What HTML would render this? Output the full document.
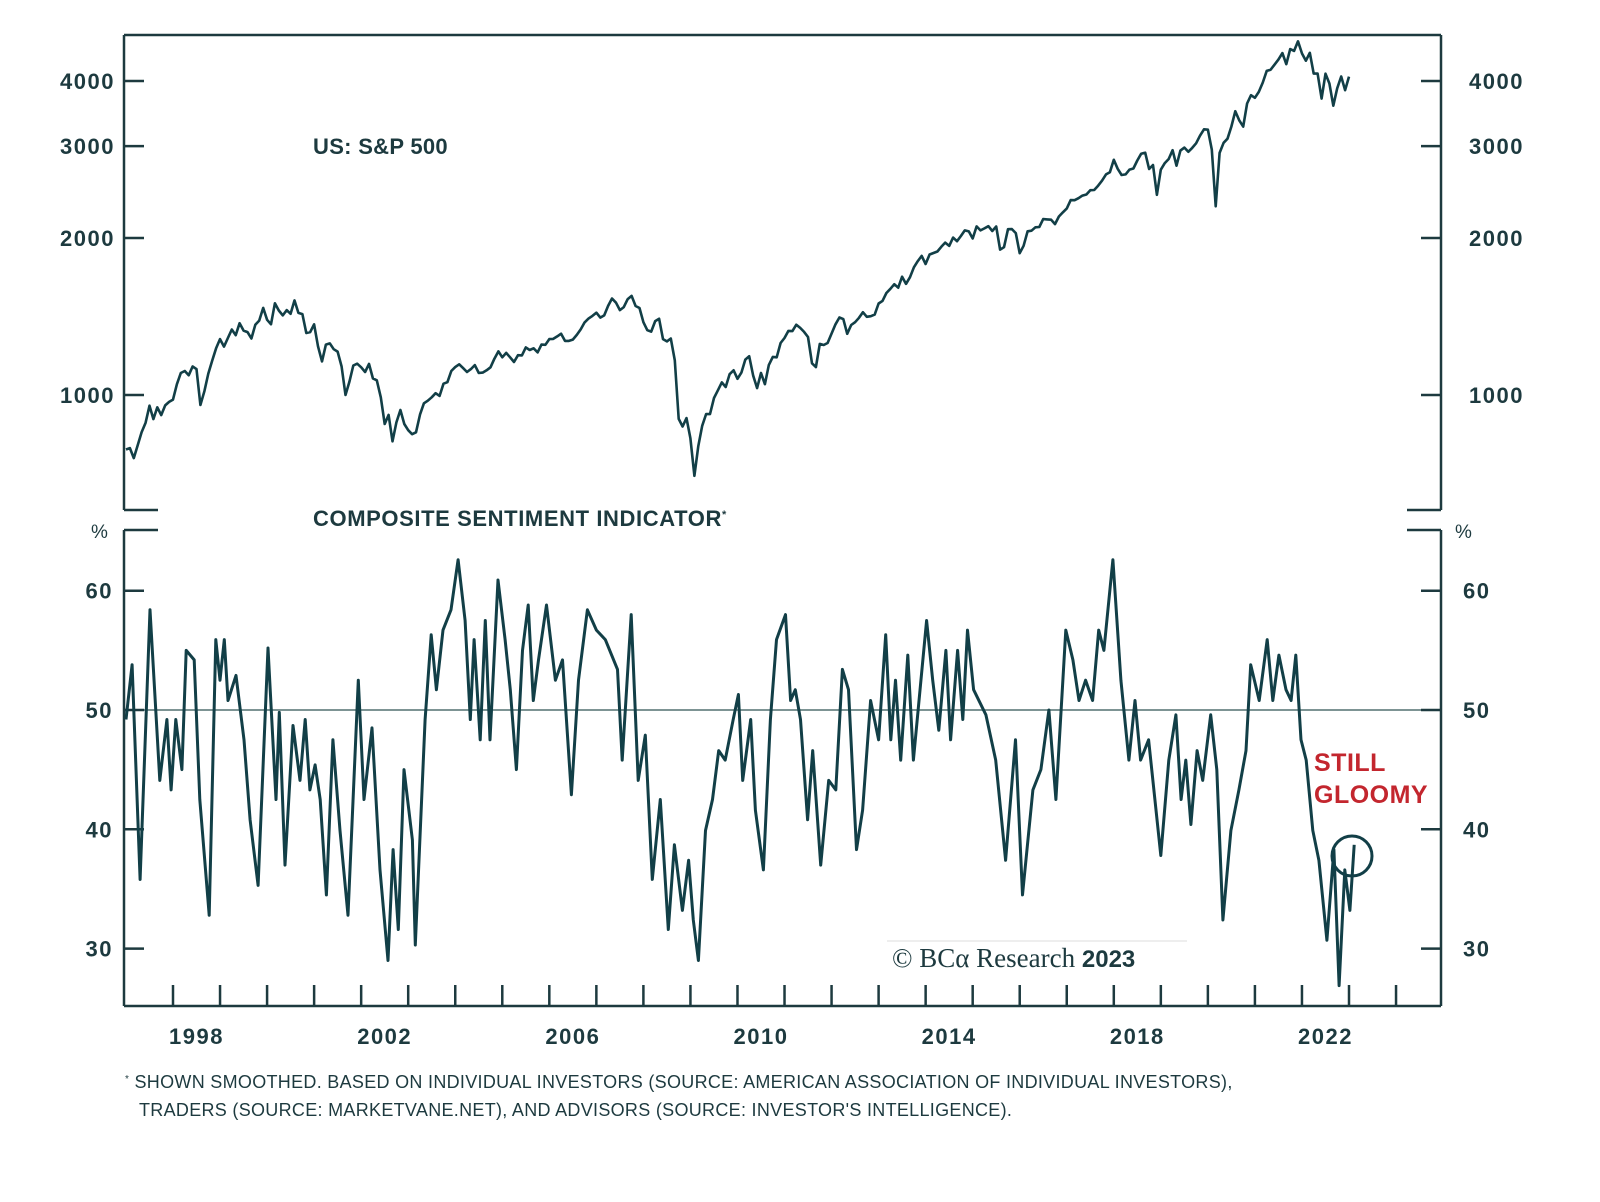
<!DOCTYPE html>
<html><head><meta charset="utf-8">
<style>
html,body{margin:0;padding:0;background:#fff;}
svg{display:block;}
text{font-family:"Liberation Sans",sans-serif;fill:#1d3a3f;}
</style></head>
<body>
<svg id="chart" width="1600" height="1202" viewBox="0 0 1600 1202">
  <g id="frame" stroke="#1d3a3f" stroke-width="2.5" fill="none">
    <line x1="124" y1="35" x2="1441" y2="35"/>
    <line x1="124" y1="35" x2="124" y2="510"/>
    <line x1="1441" y1="35" x2="1441" y2="510"/>
    <line x1="124" y1="510" x2="158" y2="510"/>
    <line x1="124" y1="530" x2="158" y2="530"/>
    <line x1="1407" y1="510" x2="1441" y2="510"/>
    <line x1="1407" y1="530" x2="1441" y2="530"/>
    <line x1="124" y1="530" x2="124" y2="1006"/>
    <line x1="1441" y1="530" x2="1441" y2="1006"/>
    <line x1="124" y1="1006" x2="1441" y2="1006"/>
  </g>
  <line x1="124" y1="710" x2="1441" y2="710" stroke="#7d9494" stroke-width="2" id="refline"/>
  <g id="ticks"></g>
  <g id="series"></g>
  <text x="313" y="154" font-size="22" font-weight="bold" letter-spacing="0.3">US: S&amp;P 500</text>
  <text x="313" y="526" font-size="22" font-weight="bold" letter-spacing="0.6">COMPOSITE SENTIMENT INDICATOR<tspan font-size="11" dy="-8">*</tspan></text>
  <text x="91" y="538" font-size="19">%</text>
  <text x="1455" y="538" font-size="19">%</text>
  <text x="1314" y="771" font-size="25" font-weight="bold" letter-spacing="0.5" style="fill:#c3262e">STILL</text>
  <text x="1314" y="803" font-size="25" font-weight="bold" letter-spacing="0.5" style="fill:#c3262e">GLOOMY</text>
  <circle cx="1352" cy="856" r="20" fill="none" stroke="#123f47" stroke-width="3"/>
  <line x1="887" y1="941" x2="1187" y2="941" stroke="#ddd" stroke-width="1"/>
  <text x="892" y="967" font-size="27" style="font-family:'Liberation Serif',serif">© BCα Research <tspan font-family="Liberation Sans" font-weight="bold" font-size="24">2023</tspan></text>
  <text x="125" y="1088" font-size="18" letter-spacing="0.3"><tspan font-size="10" dy="-6">*</tspan><tspan dy="6"> SHOWN SMOOTHED. BASED ON INDIVIDUAL INVESTORS (SOURCE: AMERICAN ASSOCIATION OF INDIVIDUAL INVESTORS),</tspan></text>
  <text x="139" y="1116" font-size="18" letter-spacing="0.3">TRADERS (SOURCE: MARKETVANE.NET), AND ADVISORS (SOURCE: INVESTOR'S INTELLIGENCE).</text>
</svg>
<script>
const spStartYear = 1997;
const spMonthly = [
786,791,757,801,848,885,954,899,947,915,955,970,
980,1049,1102,1112,1091,1134,1121,957,1017,1099,1164,1229,
1280,1238,1286,1335,1302,1373,1329,1320,1283,1363,1389,1469,
1394,1366,1499,1452,1421,1455,1431,1518,1437,1429,1315,1320,
1366,1240,1160,1249,1256,1224,1211,1134,1000,1060,1139,1148,
1130,1107,1147,1076,1067,990,880,916,815,886,936,880,
856,841,848,917,964,975,990,1008,996,1051,1058,1112,
1131,1145,1126,1107,1121,1141,1102,1104,1115,1130,1174,1212,
1181,1204,1181,1157,1192,1191,1234,1220,1229,1207,1249,1248,
1280,1281,1295,1311,1270,1270,1277,1304,1336,1378,1401,1418,
1438,1407,1421,1482,1531,1503,1455,1474,1527,1549,1481,1468,
1379,1331,1323,1386,1400,1280,1267,1283,1165,900,870,903,
826,700,798,873,919,919,987,1021,1057,1036,1096,1115,
1074,1104,1169,1187,1089,1031,1102,1049,1141,1183,1181,1258,
1286,1327,1326,1364,1345,1321,1292,1150,1131,1253,1247,1258,
1312,1366,1408,1398,1310,1362,1379,1406,1441,1412,1416,1426,
1498,1515,1569,1598,1631,1606,1686,1633,1682,1757,1806,1848,
1783,1859,1872,1884,1924,1960,1931,2003,1972,2018,2068,2059,
1995,2105,2068,2086,2107,2063,2104,1900,1920,2079,2080,2044,
1870,1932,2060,2065,2097,2099,2174,2171,2168,2126,2199,2239,
2279,2364,2363,2384,2412,2423,2470,2472,2519,2575,2648,2674,
2824,2714,2641,2648,2705,2718,2816,2902,2914,2712,2760,2420,
2704,2784,2834,2946,2752,2942,2980,2926,2977,3038,3141,3231,
3226,2954,2300,2912,3044,3100,3271,3500,3363,3270,3622,3756,
3714,3811,3973,4181,4204,4298,4395,4523,4308,4605,4567,4766,
4516,4374,4530,4132,4132,3700,4130,3955,3586,3872,4080,3840,
4077];
const sentDates = [1997.0,1997.13,1997.3,1997.51,1997.72,1997.87,1997.96,1998.06,1998.19,1998.28,1998.45,1998.57,1998.77,1998.91,1999.0,1999.09,1999.17,1999.34,1999.51,1999.64,1999.81,2000.02,2000.19,2000.26,2000.38,2000.55,2000.7,2000.81,2000.91,2001.02,2001.13,2001.26,2001.4,2001.55,2001.72,2001.94,2002.06,2002.23,2002.4,2002.57,2002.68,2002.79,2002.91,2003.09,2003.15,2003.36,2003.49,2003.6,2003.74,2003.91,2004.06,2004.21,2004.32,2004.4,2004.53,2004.64,2004.74,2004.91,2005.06,2005.17,2005.3,2005.43,2005.55,2005.66,2005.77,2005.94,2006.13,2006.28,2006.47,2006.62,2006.81,2007.0,2007.19,2007.45,2007.55,2007.74,2007.89,2008.04,2008.19,2008.36,2008.53,2008.66,2008.83,2008.96,2009.06,2009.17,2009.32,2009.47,2009.6,2009.74,2009.91,2010.02,2010.11,2010.28,2010.38,2010.55,2010.7,2010.83,2011.02,2011.13,2011.23,2011.34,2011.49,2011.6,2011.77,2011.94,2012.09,2012.23,2012.36,2012.53,2012.66,2012.83,2013.0,2013.15,2013.26,2013.36,2013.47,2013.62,2013.74,2013.89,2014.02,2014.15,2014.28,2014.43,2014.53,2014.68,2014.79,2014.89,2015.02,2015.28,2015.49,2015.7,2015.91,2016.06,2016.28,2016.45,2016.62,2016.77,2016.98,2017.13,2017.26,2017.4,2017.55,2017.68,2017.79,2017.98,2018.15,2018.32,2018.45,2018.57,2018.74,2019.0,2019.17,2019.32,2019.43,2019.53,2019.64,2019.77,2019.89,2020.06,2020.19,2020.32,2020.49,2020.66,2020.81,2020.91,2021.09,2021.26,2021.38,2021.51,2021.66,2021.77,2021.87,2021.98,2022.09,2022.23,2022.36,2022.53,2022.68,2022.79,2022.91,2023.02,2023.11];
const sentValues = [49.2,53.8,35.8,58.4,44.1,49.2,43.3,49.2,45,55,54.2,42.5,32.8,55.9,52.5,55.9,50.8,52.9,47.5,40.8,35.3,55.2,42.5,49.8,37,48.7,44.1,49.2,43.3,45.4,42.5,34.5,47.5,39.9,32.8,52.5,42.5,48.5,36.6,29,38.3,31.6,45,39.1,30.3,49.2,56.3,51.7,56.7,58.4,62.6,57.5,49.2,55.9,47.5,57.5,47.5,60.9,55.9,51.7,45,55,58.8,50.8,54.2,58.8,52.5,54.2,42.9,52.5,58.4,56.7,55.9,53.4,45.8,58,44.1,47.9,35.8,42.5,31.6,38.7,33.2,37.4,32.4,29,39.9,42.5,46.6,45.8,49.2,51.3,44.1,49.2,41.6,36.6,49.2,55.9,58,50.8,51.7,49.2,40.8,46.6,37,44.1,43.3,53.4,51.7,38.3,41.6,50.8,47.5,56.3,47.5,52.5,45.8,54.6,45.8,52.1,57.5,52.5,48.3,55,47.5,55,49.2,56.7,51.7,49.6,45.8,37.4,47.5,34.5,43.3,45,50,42.5,56.7,54.2,50.8,52.5,50.8,56.7,55,62.6,52.5,45.8,50.8,45.8,47.5,37.8,45.8,49.6,42.5,45.8,40.4,46.6,44.1,49.6,45,32.4,39.9,43.3,46.6,53.8,50.8,55.9,50.8,54.6,51.7,50.8,54.6,47.5,45.8,39.9,37.4,30.7,38.3,26.9,36.6,33.2,38.7];
const spTicks = [1000,2000,3000,4000];
const sentTicks = [30,40,50,60];
const yearLabels = [1998,2002,2006,2010,2014,2018,2022];

const NS = 'http://www.w3.org/2000/svg';
const x = t => 173 + (t - 1998) * 47.04;
const ySp = v => 395 - Math.log10(v / 1000) * 521.6;
const ySent = v => 710 - (v - 50) * 11.93;
function mk(tag, attrs, parent){const e=document.createElementNS(NS,tag);for(const k in attrs)e.setAttribute(k,attrs[k]);parent.appendChild(e);return e;}
const ticks = document.getElementById('ticks');
const series = document.getElementById('series');

spTicks.forEach(v=>{
  const y=ySp(v);
  const l=mk('line',{x1:124,x2:144,y1:y,y2:y,stroke:'#1d3a3f','stroke-width':2.5},ticks);
  
  
  const r=mk('line',{x1:1421,x2:1441,y1:y,y2:y,stroke:'#1d3a3f','stroke-width':2.5},ticks);
  
  
  const tl=mk('text',{x:115,y:y+8,'text-anchor':'end','font-size':22,'font-weight':'bold','letter-spacing':1.5},ticks);
  tl.textContent=v;
  
  
  const tr=mk('text',{x:1469,y:y+8,'font-size':22,'font-weight':'bold','letter-spacing':1.5},ticks);
  tr.textContent=v;
  
  
});
sentTicks.forEach(v=>{
  const y=ySent(v);
  const l=mk('line',{x1:124,x2:144,y1:y,y2:y,stroke:'#1d3a3f','stroke-width':2.5},ticks);
  
  
  const r=mk('line',{x1:1421,x2:1441,y1:y,y2:y,stroke:'#1d3a3f','stroke-width':2.5},ticks);
  
  
  const tl=mk('text',{x:113,y:y+8,'text-anchor':'end','font-size':22,'font-weight':'bold','letter-spacing':1.5},ticks);
  tl.textContent=v;
  
  
  const tr=mk('text',{x:1463,y:y+8,'font-size':22,'font-weight':'bold','letter-spacing':1.5},ticks);
  tr.textContent=v;
  
  
});
for(let yr=1998; yr<=2024; yr++){
  const t=mk('line',{x1:x(yr),x2:x(yr),y1:985,y2:1006,stroke:'#1d3a3f','stroke-width':2.5},ticks);
  
  
}
yearLabels.forEach(yr=>{
  const t=mk('text',{x:x(yr+0.5),y:1044,'text-anchor':'middle','font-size':22,'font-weight':'bold','letter-spacing':1.5},ticks);
  t.textContent=yr;
  
  
});
const spPts = spMonthly.map((v,i)=>x(spStartYear+i/12).toFixed(1)+','+ySp(v).toFixed(1)).join(' ');
const sp = mk('polyline',{points:spPts,fill:'none',stroke:'#123f47','stroke-width':2.6,'stroke-linejoin':'round'},series);


const sentPts = sentDates.map((d,i)=>x(d).toFixed(1)+','+ySent(sentValues[i]).toFixed(1)).join(' ');
const se = mk('polyline',{points:sentPts,fill:'none',stroke:'#123f47','stroke-width':3,'stroke-linejoin':'round'},series);


</script>
</body></html>
